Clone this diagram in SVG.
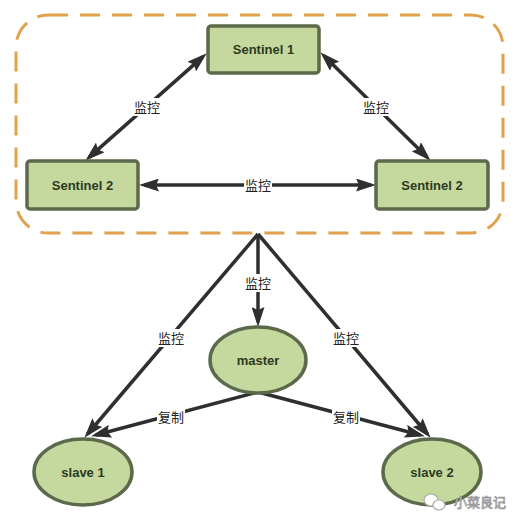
<svg xmlns="http://www.w3.org/2000/svg" width="522" height="526" viewBox="0 0 522 526">
<defs>
<marker id="ah" markerUnits="userSpaceOnUse" markerWidth="21" markerHeight="13" viewBox="0 0 21 13" refX="15" refY="6.5" orient="auto-start-reverse">
<path d="M0,0 L20,6.5 L0,13 L3,6.5 z" fill="#2f2f2f"/>
</marker>
<style>
.box{fill:#c5d99f;stroke:#5c6a4b;stroke-width:3.5}
.nt{font-family:"Liberation Sans",Arial,sans-serif;font-weight:bold;font-size:13px;fill:#2c3a1f;text-anchor:middle}
.ln{stroke:#2f2f2f;stroke-width:3.5;fill:none}
.lb{font-family:"Noto Sans CJK SC","Liberation Sans",sans-serif;font-size:13px;fill:#222;text-anchor:middle}
.lbg{fill:#fff}
</style>
</defs>
<rect width="522" height="526" fill="#fff"/>
<rect x="16" y="15" width="487" height="218" rx="32" ry="32" fill="none" stroke="#e2a24c" stroke-width="3" stroke-dasharray="20 12"/>
<g id="connectors">
<line class="ln" x1="203" y1="56.6" x2="89" y2="157.4" marker-start="url(#ah)" marker-end="url(#ah)"/>
<line class="ln" x1="323.9" y1="55.8" x2="427.1" y2="157.2" marker-start="url(#ah)" marker-end="url(#ah)"/>
<line class="ln" x1="144" y1="185" x2="371" y2="185" marker-start="url(#ah)" marker-end="url(#ah)"/>
<line class="ln" x1="258" y1="234" x2="258" y2="322" marker-end="url(#ah)"/>
<line class="ln" x1="258" y1="234" x2="87.6" y2="434" marker-end="url(#ah)"/>
<line class="ln" x1="258" y1="234" x2="427.4" y2="434" marker-end="url(#ah)"/>
<line class="ln" x1="258" y1="392" x2="95.9" y2="435" marker-end="url(#ah)"/>
<line class="ln" x1="258" y1="392" x2="420.1" y2="435" marker-end="url(#ah)"/>
<rect class="lbg" x="133" y="98" width="28" height="18"/><text class="lb" x="147" y="112">监控</text>
<rect class="lbg" x="362" y="98" width="28" height="18"/><text class="lb" x="376" y="112">监控</text>
<rect class="lbg" x="244" y="176" width="28" height="18"/><text class="lb" x="258" y="190">监控</text>
<rect class="lbg" x="244" y="274" width="28" height="18"/><text class="lb" x="258" y="288">监控</text>
<rect class="lbg" x="157" y="329" width="28" height="18"/><text class="lb" x="171" y="343">监控</text>
<rect class="lbg" x="332" y="329" width="28" height="18"/><text class="lb" x="346" y="343">监控</text>
<rect class="lbg" x="157" y="408" width="28" height="18"/><text class="lb" x="171" y="422">复制</text>
<rect class="lbg" x="332" y="408" width="28" height="18"/><text class="lb" x="346" y="422">复制</text>
</g>
<g id="sentinel1"><rect class="box" x="208" y="26" width="111" height="47" rx="3"/><text class="nt" x="263.5" y="54">Sentinel 1</text></g>
<g id="sentinel2-left"><rect class="box" x="27" y="161" width="111" height="48" rx="3"/><text class="nt" x="82.5" y="189.5">Sentinel 2</text></g>
<g id="sentinel2-right"><rect class="box" x="376" y="161" width="112" height="48" rx="3"/><text class="nt" x="432" y="189.5">Sentinel 2</text></g>
<g id="master"><ellipse class="box" cx="258" cy="360" rx="48" ry="33"/><text class="nt" x="258" y="364.5">master</text></g>
<g id="slave1"><ellipse class="box" cx="83" cy="472" rx="49" ry="33"/><text class="nt" x="83" y="476.5">slave 1</text></g>
<g id="slave2"><ellipse class="box" cx="432" cy="472" rx="49" ry="33"/><text class="nt" x="432" y="476.5">slave 2</text></g>
<g id="watermark">
<ellipse cx="431" cy="500" rx="7" ry="6" fill="#fff" stroke="#aaa" stroke-width="1.2"/>
<ellipse cx="439" cy="505" rx="6" ry="5" fill="#fff" stroke="#aaa" stroke-width="1.2"/>
<text x="480" y="507" font-family="Noto Sans CJK SC,sans-serif" font-size="13" fill="#fff" stroke="#999" stroke-width="0.8" text-anchor="middle">小菜良记</text>
</g>
</svg>
